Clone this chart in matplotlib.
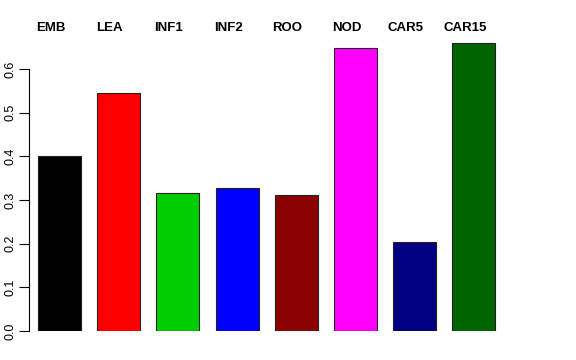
import matplotlib
matplotlib.use("Agg")
import matplotlib.pyplot as plt
import numpy as np

# data
tissues = ["EMB", "LEA", "INF1", "INF2", "ROO", "NOD", "CAR5", "CAR15"]
values = [0.401, 0.545, 0.316, 0.327, 0.311, 0.648, 0.204, 0.660]
colors = ["#000000", "#FF0000", "#00CD00", "#0000FF",
          "#8B0000", "#FF00FF", "#000080", "#006400"]
yticks = [0.0, 0.1, 0.2, 0.3, 0.4, 0.5, 0.6]

plt.rcParams["font.family"] = ["Liberation Sans", "DejaVu Sans"]

W, H = 576, 360
fig = plt.figure(figsize=(W / 100, H / 100), dpi=100, facecolor="white")

# pixel layout of the plot region
px_left, px_right, px_bottom, px_top = 29, 520, 331, 40
ax = fig.add_axes([px_left / W, 1 - px_bottom / H,
                   (px_right - px_left) / W, (px_bottom - px_top) / H])

scale = 59.2 / 1.2  # px per unit, bars 1.2 units apart
first_center_px = 59.5
ax.set_xlim(0.7 - (first_center_px - px_left) / scale,
            0.7 + (px_right - first_center_px) / scale)
ax.set_ylim(0, 0.1 * (px_bottom - px_top) / 43.67)

centers = 0.7 + 1.2 * np.arange(len(values))
ax.bar(centers, values, width=43 / scale, color=colors,
       edgecolor="#222222", linewidth=0.8)

for sp in ["top", "right", "bottom"]:
    ax.spines[sp].set_visible(False)
ax.spines["left"].set_bounds(0, 0.6)
ax.spines["left"].set_linewidth(0.8)
ax.set_xticks([])
ax.set_yticks(yticks)
ax.set_yticklabels([f"{t:.1f}" for t in yticks], rotation=90, va="center", fontsize=9)
ax.tick_params(axis="y", length=7, width=0.8, pad=2)

# tissue names above the bars
label_y = (px_bottom - 28) / 436.7
for c, name in zip(centers, tissues):
    ax.text(c - 9 / scale, label_y, name, ha="center", va="center",
            fontsize=9.5, fontweight="bold", clip_on=False)

fig.savefig("out.png", dpi=100, facecolor="white")
